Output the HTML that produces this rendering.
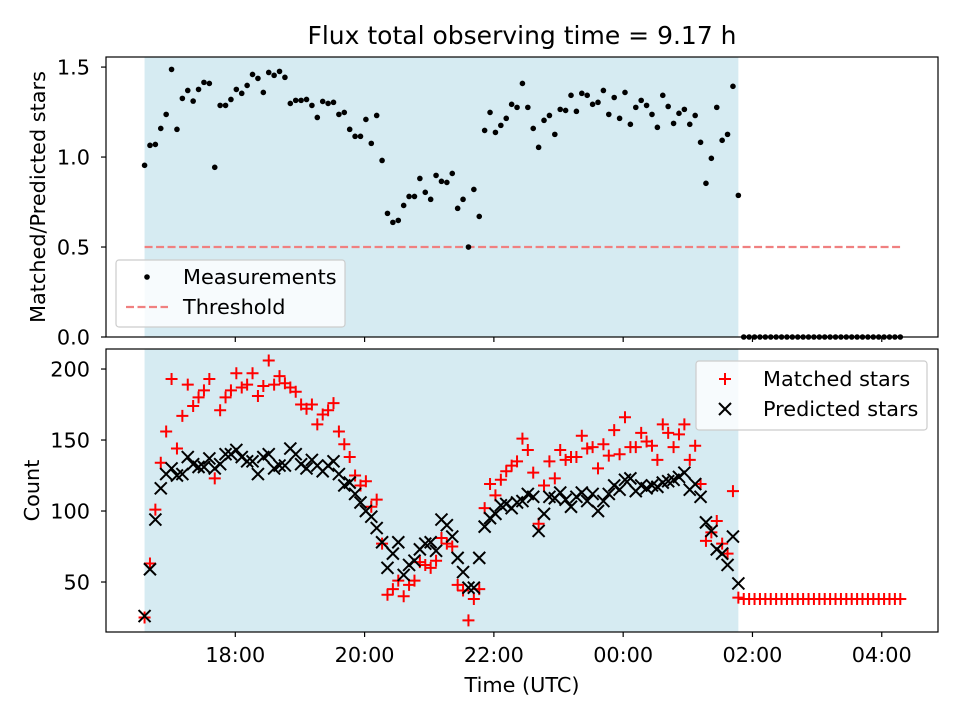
<!DOCTYPE html>
<html><head><meta charset="utf-8"><style>
body{margin:0;background:#fff;}
svg text{font-family:"DejaVu Sans","Liberation Sans",sans-serif;fill:#000;}
</style></head><body>
<svg id="fig" width="960" height="720" viewBox="0 0 960 720" xmlns="http://www.w3.org/2000/svg"></svg>
<script>
const ratioIn=[0.954,1.065,1.070,1.159,1.237,1.487,1.154,1.326,1.370,1.311,1.376,1.415,1.409,0.943,1.287,1.287,1.320,1.376,1.354,1.398,1.459,1.437,1.359,1.470,1.454,1.476,1.443,1.298,1.315,1.315,1.320,1.287,1.220,1.309,1.298,1.304,1.237,1.248,1.154,1.115,1.115,1.209,1.076,1.231,0.981,0.687,0.637,0.648,0.731,0.781,0.781,0.881,0.804,0.765,0.898,0.865,0.859,0.909,0.715,0.765,0.5,0.820,0.670,1.148,1.248,1.137,1.176,1.215,1.293,1.276,1.409,1.276,1.159,1.054,1.204,1.231,1.126,1.265,1.259,1.343,1.254,1.354,1.343,1.293,1.304,1.370,1.237,1.331,1.215,1.359,1.182,1.276,1.315,1.287,1.237,1.165,1.343,1.281,1.187,1.243,1.265,1.182,1.231,1.082,0.854,0.993,1.276,1.093,1.126,1.393,0.787];
const predictedIn=[26,59,94,116,126,130,125,126,138,133,131,131,137,130,133,140,140,143,138,135,135,126,138,140,130,132,132,144,140,133,130,136,132,128,132,135,126,118,120,112,106,100,96,88,78,60,70,78,55,62,65,73,77,78,72,94,90,82,67,57,46,46,67,89,95,98,104,105,102,106,107,112,110,86,98,110,109,113,108,103,110,113,107,112,100,107,112,118,115,122,123,114,118,116,118,117,120,121,122,124,127,115,119,110,92,86,73,70,62,82,49];
const matchedIn=[25,63,101,134,156,193,144,167,189,174,180,185,193,123,171,180,185,197,187,189,197,181,188,206,189,195,190,187,184,175,172,175,161,168,171,176,156,147,138,125,118,121,103,108,77,41,45,51,40,48,51,64,62,60,65,81,77,75,48,44,23,38,45,102,119,111,122,128,132,135,151,143,127,91,118,135,123,143,136,138,138,153,144,145,130,147,139,157,140,166,145,145,155,149,146,136,161,155,145,154,161,136,146,119,79,85,93,77,70,114,39];
const ratioOut=[0,0,0,0,0,0,0,0,0,0,0,0,0,0,0,0,0,0,0,0,0,0,0,0,0,0,0,0,0,0];
const matchedOut=[38,38,38,38,38,38,38,38,38,38,38,38,38,38,38,38,38,38,38,38,38,38,38,38,38,38,38,38,38,38];
const xTickLabels=["18:00","20:00","22:00","00:00","02:00","04:00"];
const xTickHours=[18,20,22,24,26,28];
const topYTicks=[0,0.5,1.0,1.5];
const botYTicks=[50,100,150,200];
const startMin=35.8, stepMin=5.01;

const NS="http://www.w3.org/2000/svg";
const svg=document.getElementById('fig');
function mk(tag,attrs,parent){const e=document.createElementNS(NS,tag);for(const k in attrs)e.setAttribute(k,attrs[k]);(parent||svg).appendChild(e);return e;}
const L=106,R=938,FS=20.8,MS=6;
const X=h=>L+(h-16.0)/(28.87-16.0)*(R-L);
const TOP={t:57,b:337,min:0,max:1.556}, BOT={t:349,b:632,min:14.8,max:214.1};
const Y=(p,v)=>p.b-(v-p.min)/(p.max-p.min)*(p.b-p.t);
const nIn=ratioIn.length, nAll=nIn+ratioOut.length;
const tHour=i=>16+(startMin+stepMin*i)/60;
const ratioAll=ratioIn.concat(ratioOut);
const matchedAll=matchedIn.concat(matchedOut);

function panel(p,name){
  const g=mk('g',{});
  
  
  mk('rect',{x:L,y:p.t,width:R-L,height:p.b-p.t,fill:'#fff'},g);
  const span=mk('rect',{x:X(tHour(0)),y:p.t,width:X(tHour(nIn-1))-X(tHour(0)),height:p.b-p.t,fill:'#add8e6','fill-opacity':0.5},g);
  
  
  return g;
}
function frame(p,g){mk('rect',{x:L,y:p.t,width:R-L,height:p.b-p.t,fill:'none',stroke:'#000','stroke-width':1.2},g);}

const title=mk('text',{x:522,y:44,'text-anchor':'middle','font-size':25});
title.textContent='Flux total observing time = 9.17 h';



const gt=panel(TOP,'ratio-panel');
const thr=mk('line',{x1:X(tHour(0)),x2:X(tHour(nAll-1)),y1:Y(TOP,0.5),y2:Y(TOP,0.5),stroke:'#f08080','stroke-width':2.2,'stroke-dasharray':'8,3.5'},gt);


for(let i=0;i<nAll;i++){
  const c=mk('circle',{cx:X(tHour(i)),cy:Y(TOP,ratioAll[i]),r:2.8,fill:'#000'},gt);
  
  
}
frame(TOP,gt);
topYTicks.forEach(v=>{const y=Y(TOP,v);mk('line',{x1:L-5,x2:L,y1:y,y2:y,stroke:'#000','stroke-width':1.2},gt);
  const t=mk('text',{x:L-16,y:y+7.5,'text-anchor':'end','font-size':FS},gt);t.textContent=v.toFixed(1);
  
  });
xTickHours.forEach(h=>{mk('line',{x1:X(h),x2:X(h),y1:TOP.b,y2:TOP.b+5,stroke:'#000','stroke-width':1.2},gt);});
const yl1=mk('text',{x:0,y:0,'text-anchor':'middle','font-size':FS,transform:`translate(45,${(TOP.t+TOP.b)/2}) rotate(-90)`});
yl1.textContent='Matched/Predicted stars';


const lg1=mk('g',{});


mk('rect',{x:116,y:260,width:229,height:67,rx:3,fill:'#fff','fill-opacity':0.8,stroke:'#ccc','stroke-width':1.2},lg1);
mk('circle',{cx:147,cy:277,r:2.8,fill:'#000'},lg1);
let t1=mk('text',{x:183,y:284,'font-size':FS},lg1);t1.textContent='Measurements';
mk('line',{x1:126,x2:168,y1:307,y2:307,stroke:'#f08080','stroke-width':2.2,'stroke-dasharray':'8,3.5'},lg1);
let t2=mk('text',{x:183,y:314,'font-size':FS},lg1);t2.textContent='Threshold';

const gb=panel(BOT,'count-panel');
function plus(x,y,g){return mk('path',{d:`M${x-MS},${y}H${x+MS}M${x},${y-MS}V${y+MS}`,stroke:'#f00','stroke-width':2,fill:'none'},g);}
function cross(x,y,g){return mk('path',{d:`M${x-MS},${y-MS}L${x+MS},${y+MS}M${x-MS},${y+MS}L${x+MS},${y-MS}`,stroke:'#000','stroke-width':2,fill:'none'},g);}
for(let i=0;i<nAll;i++){
  const p=plus(X(tHour(i)),Y(BOT,matchedAll[i]),gb);
  
  
}
for(let i=0;i<nIn;i++){
  const p=cross(X(tHour(i)),Y(BOT,predictedIn[i]),gb);
  
  
}
frame(BOT,gb);
botYTicks.forEach(v=>{const y=Y(BOT,v);mk('line',{x1:L-5,x2:L,y1:y,y2:y,stroke:'#000','stroke-width':1.2},gb);
  const t=mk('text',{x:L-16,y:y+7.5,'text-anchor':'end','font-size':FS},gb);t.textContent=v;
  
  });
xTickHours.forEach((h,i)=>{mk('line',{x1:X(h),x2:X(h),y1:BOT.b,y2:BOT.b+5,stroke:'#000','stroke-width':1.2},gb);
  const t=mk('text',{x:X(h),y:662,'text-anchor':'middle','font-size':FS},gb);t.textContent=xTickLabels[i];
  
  });
const yl2=mk('text',{x:0,y:0,'text-anchor':'middle','font-size':FS,transform:`translate(39,${(BOT.t+BOT.b)/2}) rotate(-90)`});
yl2.textContent='Count';


const xl=mk('text',{x:522,y:692,'text-anchor':'middle','font-size':FS});
xl.textContent='Time (UTC)';


const lg2=mk('g',{});


mk('rect',{x:696,y:361,width:231,height:69,rx:3,fill:'#fff','fill-opacity':0.8,stroke:'#ccc','stroke-width':1.2},lg2);
plus(725,379,lg2);
let t3=mk('text',{x:763,y:386,'font-size':FS},lg2);t3.textContent='Matched stars';
cross(725,409,lg2);
let t4=mk('text',{x:763,y:416,'font-size':FS},lg2);t4.textContent='Predicted stars';
</script>
</body></html>
